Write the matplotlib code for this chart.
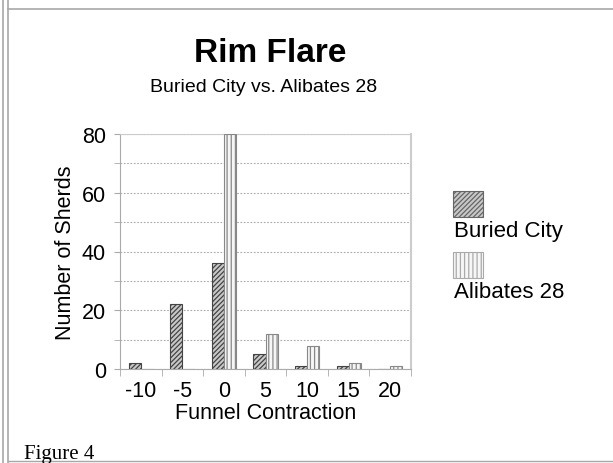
import matplotlib
matplotlib.use("Agg")
import matplotlib.pyplot as plt
import numpy as np
from matplotlib.patches import Rectangle
from matplotlib.lines import Line2D

categories = ["-10", "-5", "0", "5", "10", "15", "20"]
buried_city = [2, 22, 36, 5, 1, 1, 0]
alibates_28 = [0, 0, 80, 12, 8, 2, 1]

W, H = 613, 464
plt.rcParams["font.family"] = ["Liberation Sans", "DejaVu Sans"]
plt.rcParams["hatch.linewidth"] = 0.9

fig = plt.figure(figsize=(W / 100, H / 100), dpi=100)
fig.patch.set_facecolor("white")

# page frame
frame_col = "#a8a8a8"
for x in (3, 8):
    fig.add_artist(Line2D([x / W, x / W], [0, 1], color=frame_col, lw=1.2))
fig.add_artist(Line2D([8 / W, 1], [1 - 10 / H, 1 - 10 / H], color=frame_col, lw=1.2))
fig.add_artist(Line2D([8 / W, 1], [1 - 462 / H, 1 - 462 / H], color=frame_col, lw=1.0))

ax = fig.add_axes([120 / W, (H - 370) / H, 291 / W, 235 / H])
x = np.arange(len(categories))
bw = 0.29

plt.rcParams["hatch.color"] = "#2a2a2a"
ax.bar(x - bw / 2, buried_city, bw, color="#c8c8c8", edgecolor="#444444",
       hatch="///////", lw=0.8, zorder=3)
plt.rcParams["hatch.color"] = "#d4d4d4"
ax.bar(x + bw / 2, alibates_28, bw, color="#f6f6f6", edgecolor="#888888",
       hatch="||||", lw=0.8, zorder=3)

fs = 15.5
ax.set_xlim(-0.5, len(categories) - 0.5)
ax.set_ylim(0, 80)
ax.set_yticks(range(0, 81, 20))
ax.set_yticks(range(10, 80, 20), minor=True)
ax.set_xticks(x)
ax.set_xticklabels(categories, fontsize=fs)
ax.tick_params(axis="x", length=0, pad=8)
ax.set_xticks(np.arange(-0.5, len(categories)), minor=True)
ax.tick_params(axis="x", which="minor", length=5, color="#aaaaaa", direction="out")
ax.tick_params(axis="y", which="both", length=4, color="#aaaaaa", labelsize=fs, pad=6)
ax.yaxis.grid(True, which="both", ls=(0, (1.5, 1.5)), color="#aaaaaa", lw=0.8, zorder=0)
for s in ("top", "right"):
    ax.spines[s].set_color("#cccccc")
ax.spines["left"].set_color("#aaaaaa")
ax.spines["bottom"].set_color("#aaaaaa")
ax.spines["right"].set_linewidth(1.5)

ax.set_xlabel("Funnel Contraction", fontsize=fs, labelpad=1)
ax.set_ylabel("Number of Sherds", fontsize=fs, labelpad=4)

fig.text(270 / W, 1 - 53 / H, "Rim Flare", fontsize=24, fontweight="bold",
         ha="center", va="center")
fig.text(264 / W, 1 - 88 / H, "Buried City vs. Alibates 28", fontsize=14,
         ha="center", va="center")

# legend (handles above labels)
plt.rcParams["hatch.color"] = "#2a2a2a"
fig.add_artist(Rectangle((453 / W, 1 - 218 / H), 30 / W, 26 / H, transform=fig.transFigure,
                         facecolor="#c8c8c8", edgecolor="#666666", hatch="///////", lw=0.8))
plt.rcParams["hatch.color"] = "#d4d4d4"
fig.add_artist(Rectangle((453 / W, 1 - 279 / H), 30 / W, 26 / H, transform=fig.transFigure,
                         facecolor="#f6f6f6", edgecolor="#aaaaaa", hatch="||||", lw=0.8))
fig.text(454 / W, 1 - 232 / H, "Buried City", fontsize=16, va="center")
fig.text(454 / W, 1 - 293 / H, "Alibates 28", fontsize=16, va="center")

fig.text(24 / W, 1 - 459 / H, "Figure 4", fontsize=15, family="Liberation Serif",
         va="baseline")

fig.savefig("out.png", dpi=100)
